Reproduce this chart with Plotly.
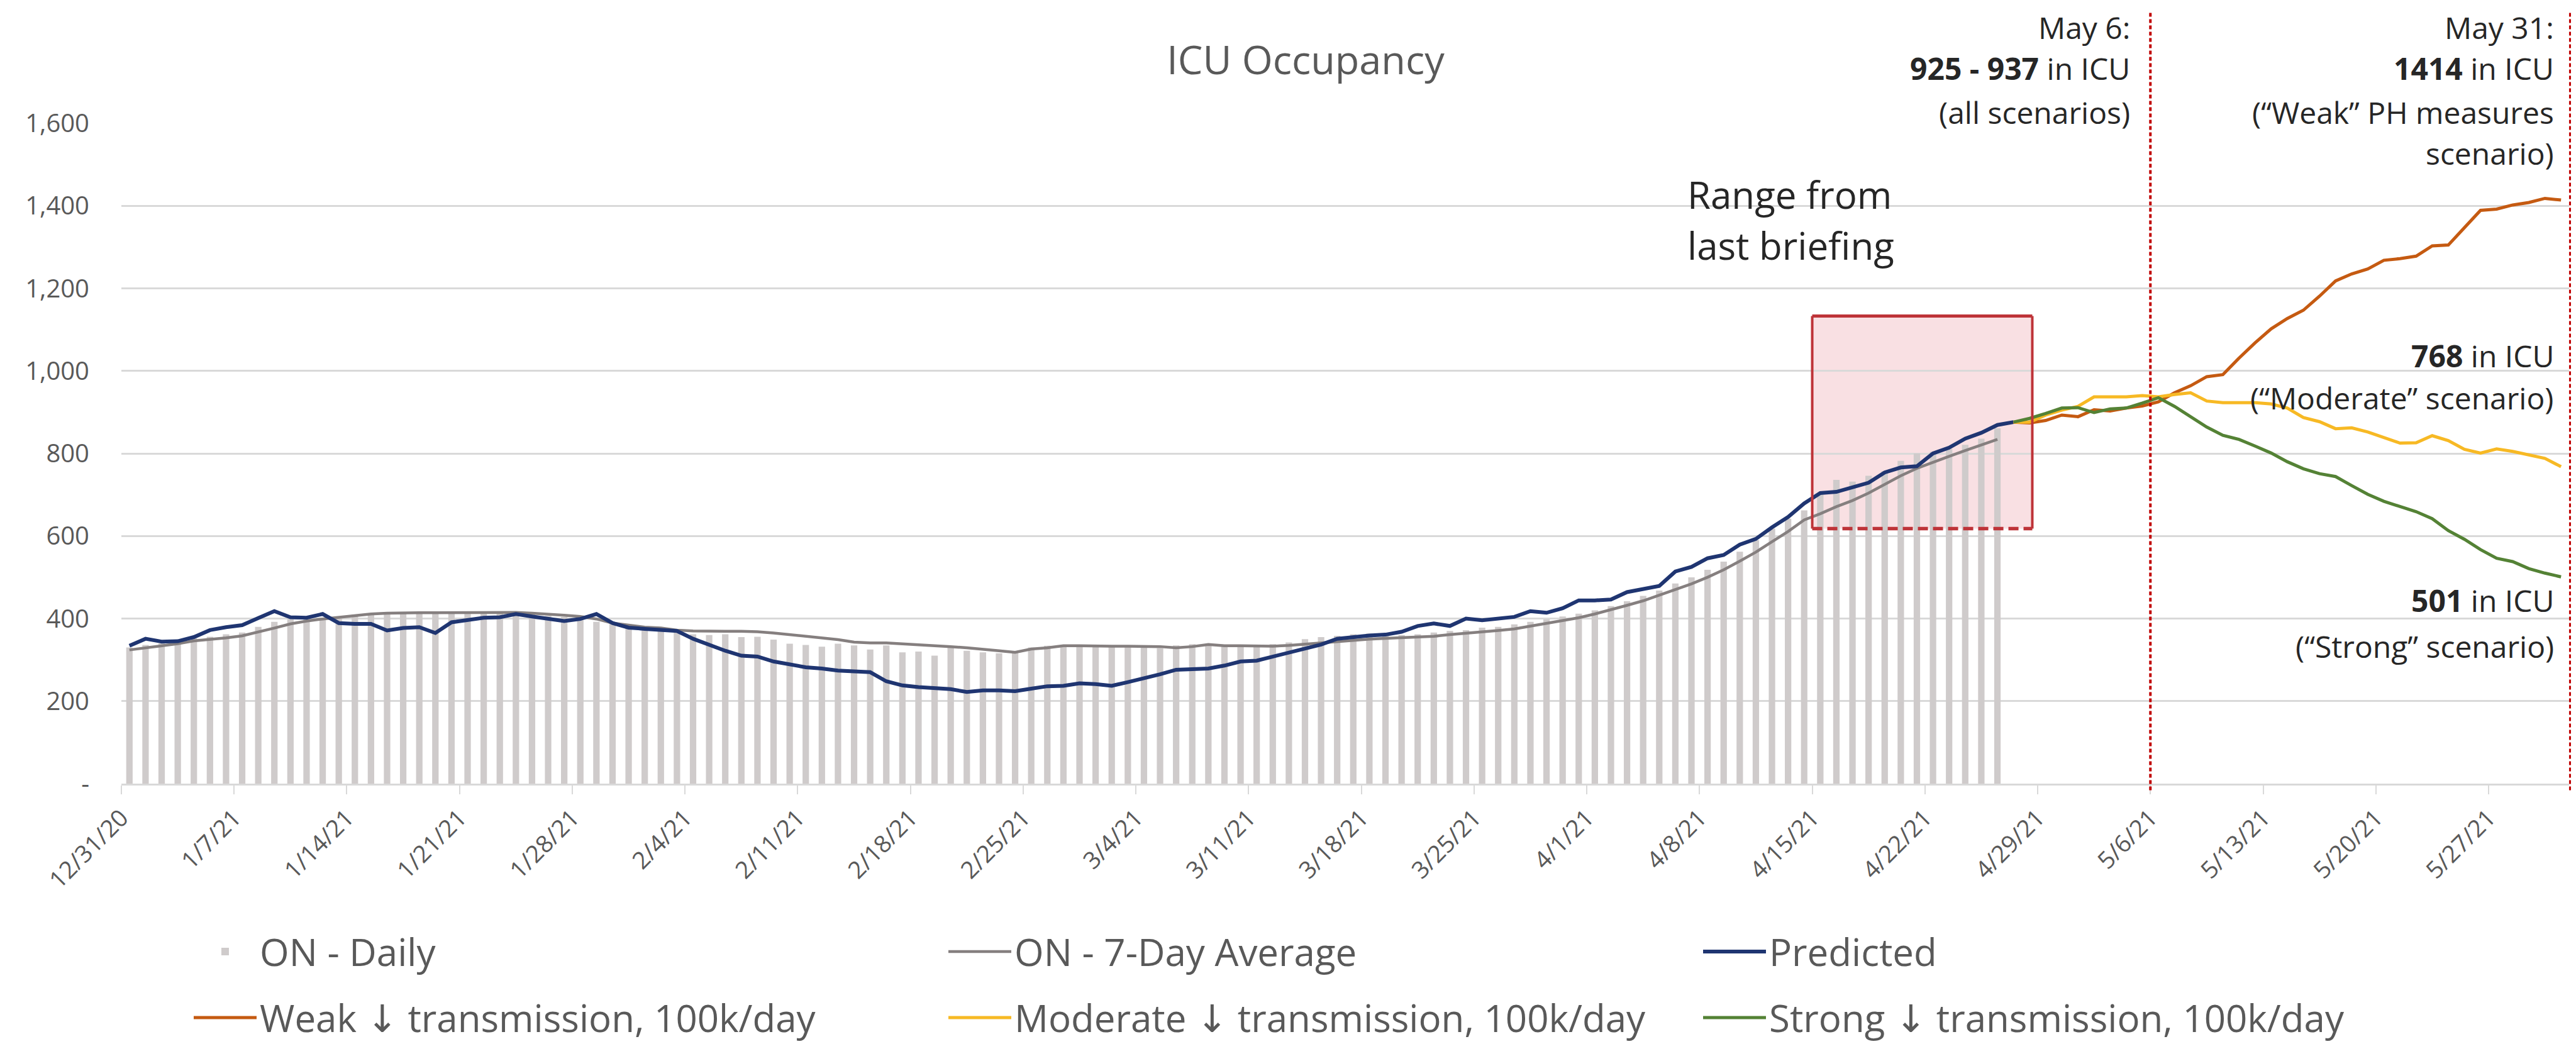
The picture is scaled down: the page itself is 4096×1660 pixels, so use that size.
import pandas as pd
import plotly.graph_objects as go

# ---------------- data ----------------
start_date = "2020-12-31"
n_days = 152  # 12/31/20 .. 5/31/21
dates = pd.date_range(start_date, periods=n_days, freq="D")

on_daily = [
    330, 336, 340, 342, 352, 356, 362, 366, 380, 392, 398, 404, 402, 404, 410, 412,
    410, 414, 416, 412, 414, 416, 413, 417, 414, 410, 406, 404, 396, 392, 388, 382,
    378, 372, 368, 362, 360, 362, 355, 356, 349, 339, 336, 332, 339, 335, 325, 335,
    318, 320, 310, 329, 322, 318, 316, 318, 330, 334, 336, 335, 334, 332, 333, 330,
    328, 335, 338, 334, 335, 334, 333, 338, 342, 350, 355, 358, 362, 364, 358, 360,
    362, 366, 370, 372, 378, 380, 386, 392, 398, 405, 412, 420, 430, 442, 455, 468,
    485, 500, 518, 538, 562, 590, 618, 642, 662, 700, 736, 732, 746, 757, 782, 800,
    804, 811, 821, 836, 861,
]

on_7day = [
    324, 329, 334, 339, 346, 349, 353, 358, 367, 377, 387, 394, 399, 403, 408, 411,
    413, 414, 414, 414, 414, 414, 414, 415, 415, 413, 411, 408, 405, 399, 389, 384,
    379, 377, 372, 370, 369, 369, 369, 368, 365, 361, 357, 353, 349, 343, 341, 341,
    339, 337, 334, 332, 329, 326, 322, 318, 326, 329, 334, 334, 333, 333, 333, 333,
    332, 329, 332, 337, 334, 334, 333, 333, 335, 338, 342, 345, 348, 350, 352, 354,
    355, 357, 361, 364, 368, 371, 375, 382, 389, 396, 402, 411, 421, 432, 443, 457,
    471, 484, 500, 518, 539, 561, 586, 611, 639, 654, 671, 686, 704, 725, 746, 764,
    779, 793, 807, 821, 834,
]

predicted = [
    334, 351, 344, 345, 355, 372, 379, 384, 401, 418, 403, 402, 411, 389, 387, 387,
    371, 377, 379, 365, 391, 396, 402, 403, 411, 405, 399, 394, 399, 411, 389, 378,
    375, 372, 370, 351, 336, 322, 310, 308, 296, 289, 282, 279, 274, 272, 270, 248,
    238, 234, 231, 229, 222, 226, 226, 224, 230, 236, 237, 243, 241, 237, 246, 255,
    265, 276, 278, 279, 286, 296, 298, 308, 317, 327, 337, 351, 356, 359, 361, 368,
    382, 388, 382, 400, 396, 400, 404, 418, 414, 425, 444, 444, 446, 464, 471, 479,
    514, 525, 546, 554, 579, 593, 621, 646, 679, 704, 707, 718, 729, 754, 766, 769,
    800, 814, 836, 850, 869, 876,
]

weak = [
    876, 874, 880, 893, 889, 906, 903, 910, 915, 925, 947, 964, 986, 991, 1031, 1068,
    1102, 1127, 1147, 1181, 1218, 1235, 1247, 1268, 1272, 1278, 1303, 1305, 1347, 1389,
    1392, 1402, 1408, 1418, 1414,
]
moderate = [
    876, 876, 893, 905, 914, 937, 937, 937, 940, 937, 943, 947, 927, 923, 923, 923,
    920, 910, 887, 877, 860, 862, 852, 839, 825, 826, 843, 831, 810, 801, 811, 805,
    797, 788, 768,
]
strong = [
    876, 885, 897, 910, 911, 899, 908, 910, 922, 935, 914, 889, 864, 844, 834, 818,
    801, 780, 763, 751, 744, 722, 701, 684, 672, 659, 642, 613, 592, 567, 546, 538,
    521, 510, 501,
]

y_tick_vals = [0, 200, 400, 600, 800, 1000, 1200, 1400, 1600]
y_tick_text = ["-", "200", "400", "600", "800", "1,000", "1,200", "1,400", "1,600"]

# range from last briefing (box)
box_x = ["2021-04-15 00:00", "2021-04-28 16:00"]
box_y = [618, 1133]

# ---------------- styling ----------------
FONT = "Open Sans"
GREY_TXT = "#595959"
DARK_TXT = "#262626"
RED = "#c00000"
BOX_RED = "#be3338"
ARROW = '<span style="font-family:DejaVu Sans">\u2193</span>'

scen_start = len(predicted) - 1
d_hist = dates[: len(on_daily)]
d_pred = dates[: len(predicted)]
d_scen = dates[scen_start: scen_start + len(weak)]

DAY_MS = 86400000
common = dict(xperiod=DAY_MS, xperiodalignment="middle")

fig = go.Figure()
fig.add_trace(go.Bar(x=d_hist, y=on_daily, name="ON - Daily", marker_color="#cfcbcb",
                     marker_line_width=0, width=DAY_MS * 0.4, legend="legend", **common))
fig.add_trace(go.Scatter(x=d_hist, y=on_7day, name="ON - 7-Day Average", mode="lines",
                         line=dict(color="#857f7f", width=4.5), legend="legend", **common))
fig.add_trace(go.Scatter(x=d_pred, y=predicted, name="Predicted", mode="lines",
                         line=dict(color="#1f3571", width=6), legend="legend", **common))
fig.add_trace(go.Scatter(x=d_scen, y=weak, name=f"Weak {ARROW} transmission, 100k/day", mode="lines",
                         line=dict(color="#c55a11", width=5), legend="legend2", **common))
fig.add_trace(go.Scatter(x=d_scen, y=moderate, name=f"Moderate {ARROW} transmission, 100k/day",
                         mode="lines", line=dict(color="#f7b924", width=5), legend="legend2", **common))
fig.add_trace(go.Scatter(x=d_scen, y=strong, name=f"Strong {ARROW} transmission, 100k/day", mode="lines",
                         line=dict(color="#548235", width=5), legend="legend2", **common))

W, H = 4096, 1660
L, R, T, B = 185, 19, 187.5, 421.5
plot_h = H - T - B


def py(px):
    """window px from top -> paper y"""
    return (H - B - px) / plot_h


shapes = [
    dict(type="rect", xref="x", yref="y", x0=box_x[0], x1=box_x[1], y0=box_y[0], y1=box_y[1],
         fillcolor="#f9e0e3", line=dict(width=0), layer="below"),
    dict(type="line", xref="x", yref="y", x0=box_x[0], x1=box_x[0], y0=box_y[0], y1=box_y[1],
         line=dict(color=BOX_RED, width=4)),
    dict(type="line", xref="x", yref="y", x0=box_x[1], x1=box_x[1], y0=box_y[0], y1=box_y[1],
         line=dict(color=BOX_RED, width=4)),
    dict(type="line", xref="x", yref="y", x0=box_x[0], x1=box_x[1], y0=box_y[1], y1=box_y[1],
         line=dict(color=BOX_RED, width=5)),
    dict(type="line", xref="x", yref="y", x0=box_x[0], x1=box_x[1], y0=box_y[0], y1=box_y[0],
         line=dict(color=BOX_RED, width=5.5, dash="16px,8px")),
    dict(type="line", xref="x", yref="paper", x0="2021-05-06", x1="2021-05-06", y0=-0.01, y1=py(8),
         line=dict(color=RED, width=4, dash="6px,4px")),
    dict(type="line", xref="paper", yref="paper", x0=1.0005, x1=1.0005, y0=-0.01, y1=py(8),
         line=dict(color=RED, width=4, dash="6px,4px")),
]

annotations = []
DY = -10  # vertical correction so the glyphs sit where the reference has them


def add_text(text, x, xref, y_px, xanchor="right", xshift=0, size=48):
    annotations.append(dict(text=text, x=x, xref=xref, y=py(y_px + DY), yref="paper",
                            xanchor=xanchor, yanchor="middle", xshift=xshift, showarrow=False,
                            font=dict(family=FONT, size=size, color=DARK_TXT)))


# May 6 block
add_text("May 6:", "2021-05-06", "x", 45, xshift=-30)
add_text("<b>925 - 937</b> in ICU", "2021-05-06", "x", 110, xshift=-30)
add_text("(all scenarios)", "2021-05-06", "x", 180, xshift=-30)
# May 31 block
add_text("May 31:", 1.0, "paper", 45, xshift=-22)
add_text("<b>1414</b> in ICU", 1.0, "paper", 110, xshift=-22)
add_text("(\u201cWeak\u201d PH measures", 1.0, "paper", 180, xshift=-22)
add_text("scenario)", 1.0, "paper", 245, xshift=-22)
add_text("<b>768</b> in ICU", 1.0, "paper", 567, xshift=-22)
add_text("(\u201cModerate\u201d scenario)", 1.0, "paper", 634, xshift=-22)
add_text("<b>501</b> in ICU", 1.0, "paper", 957, xshift=-22)
add_text("(\u201cStrong\u201d scenario)", 1.0, "paper", 1030, xshift=-22)
# range text
add_text("Range from", (2673 - L) / (W - L - R), "paper", 311, xanchor="left", size=60)
add_text("last briefing", (2673 - L) / (W - L - R), "paper", 392, xanchor="left", size=60)

legend_common = dict(orientation="h", xref="container", yref="container", xanchor="left",
                     yanchor="middle", font=dict(family=FONT, size=60, color=GREY_TXT),
                     bgcolor="rgba(0,0,0,0)", entrywidth=1085, entrywidthmode="pixels",
                     itemwidth=100, traceorder="normal")

fig.update_layout(
    width=W, height=H, autosize=False,
    margin=dict(l=L, r=R, t=T, b=B, pad=0),
    paper_bgcolor="white", plot_bgcolor="white",
    font=dict(family=FONT, color=GREY_TXT),
    title=dict(text="ICU Occupancy", x=2068 / W, xanchor="center", xref="container",
               y=1 - 88 / H, yanchor="middle", yref="container",
               font=dict(family=FONT, size=63, color=GREY_TXT)),
    showlegend=True,
    legend=dict(x=295 / W, y=1 - 1505 / H, **legend_common),
    legend2=dict(x=295 / W, y=1 - 1610 / H, **legend_common),
    shapes=shapes,
    annotations=annotations,
)

fig.update_xaxes(
    type="date", range=[start_date, "2021-06-01"],
    tick0=start_date, dtick=7 * DAY_MS, tickformat="%-m/%-d/%y",
    tickangle=-45, tickfont=dict(family=FONT, size=38, color=GREY_TXT),
    ticks="outside", ticklen=14, tickwidth=2, tickcolor="#d9d9d9",
    showline=True, linecolor="#d9d9d9", linewidth=3,
    showgrid=False, zeroline=False,
)
fig.update_yaxes(
    range=[0, 1600], tickvals=y_tick_vals, ticktext=y_tick_text,
    tickfont=dict(family=FONT, size=40, color=GREY_TXT),
    showgrid=True, gridcolor="#d9d9d9", gridwidth=3, zeroline=False,
    showline=False, ticks="", ticklabelstandoff=50,
)

fig.write_html("out.html")
